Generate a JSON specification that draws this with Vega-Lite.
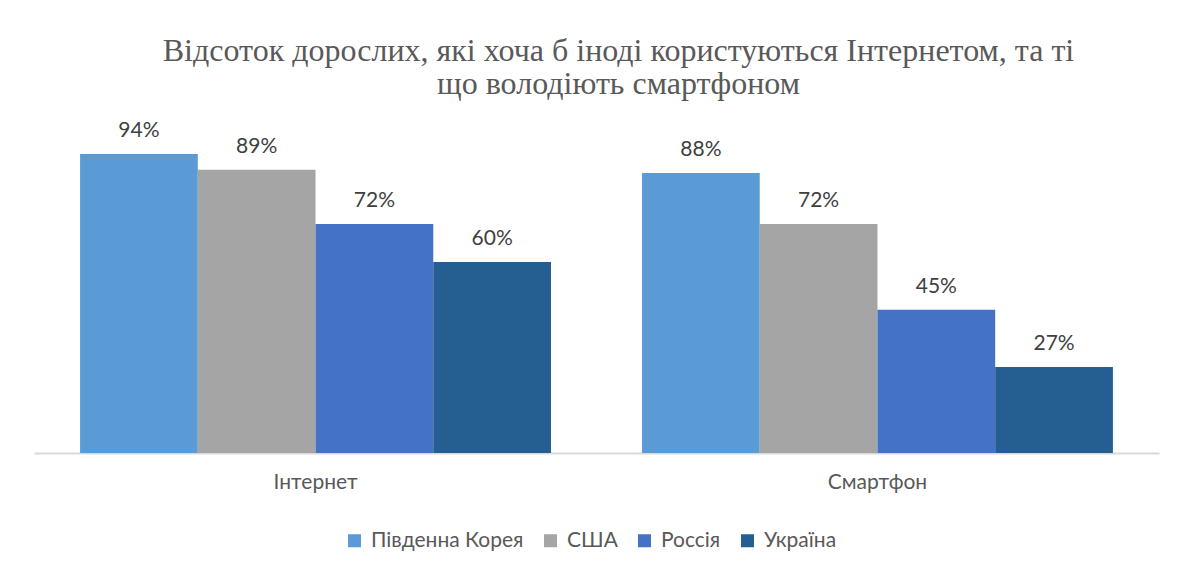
{
  "$schema": "https://vega.github.io/schema/vega-lite/v6.json",
  "width": 1125,
  "height": 350,
  "autosize": {"type": "none"},
  "padding": {"left": 34, "top": 103, "right": 19, "bottom": 119},
  "background": "white",
  "config": {"view": {"stroke": null}},
  "title": {
    "text": ["Відсоток дорослих, які хоча б іноді користуються Інтернетом, та ті", "що володіють смартфоном"],
    "font": "Liberation Serif",
    "fontSize": 32,
    "fontWeight": "normal",
    "color": "#595959",
    "lineHeight": 33,
    "anchor": "middle",
    "dx": 22,
    "offset": 2
  },
  "data": {
    "values": [
      {"category": "Інтернет", "country": "Південна Корея", "value": 0.94},
      {"category": "Інтернет", "country": "США", "value": 0.89},
      {"category": "Інтернет", "country": "Россія", "value": 0.72},
      {"category": "Інтернет", "country": "Україна", "value": 0.60},
      {"category": "Смартфон", "country": "Південна Корея", "value": 0.88},
      {"category": "Смартфон", "country": "США", "value": 0.72},
      {"category": "Смартфон", "country": "Россія", "value": 0.45},
      {"category": "Смартфон", "country": "Україна", "value": 0.27}
    ]
  },
  "encoding": {
    "x": {
      "field": "category",
      "type": "nominal",
      "sort": ["Інтернет", "Смартфон"],
      "scale": {"paddingInner": 0.162, "paddingOuter": 0.082},
      "title": null,
      "axis": {
        "domainColor": "#d9d9d9",
        "domainWidth": 2,
        "ticks": false,
        "labelAngle": 0,
        "labelFont": "Lato",
        "labelFontSize": 21,
        "labelColor": "#595959",
        "labelPadding": 18
      }
    },
    "xOffset": {
      "field": "country",
      "type": "nominal",
      "sort": ["Південна Корея", "США", "Россія", "Україна"],
      "scale": {"paddingInner": 0, "paddingOuter": 0}
    },
    "y": {
      "field": "value",
      "type": "quantitative",
      "scale": {"domain": [0, 1.1]},
      "axis": null
    }
  },
  "layer": [
    {
      "mark": {"type": "bar"},
      "encoding": {
        "color": {
          "field": "country",
          "type": "nominal",
          "sort": ["Південна Корея", "США", "Россія", "Україна"],
          "scale": {
            "domain": ["Південна Корея", "США", "Россія", "Україна"],
            "range": ["#5B9BD5", "#A5A5A5", "#4472C4", "#255E91"]
          },
          "legend": {
            "title": null,
            "orient": "none",
            "direction": "horizontal",
            "legendX": 310,
            "legendY": 427,
            "columns": 4,
            "columnPadding": 16,
            "padding": 0,
            "symbolType": "square",
            "symbolSize": 169,
            "symbolStrokeWidth": 0,
            "labelOffset": 6,
            "labelFont": "Lato",
            "labelFontSize": 21,
            "labelColor": "#595959"
          }
        }
      }
    },
    {
      "mark": {
        "type": "text",
        "baseline": "alphabetic",
        "dy": -17,
        "font": "Lato",
        "fontSize": 21,
        "color": "#404040"
      },
      "encoding": {
        "text": {"field": "value", "type": "quantitative", "format": ".0%"}
      }
    }
  ]
}
